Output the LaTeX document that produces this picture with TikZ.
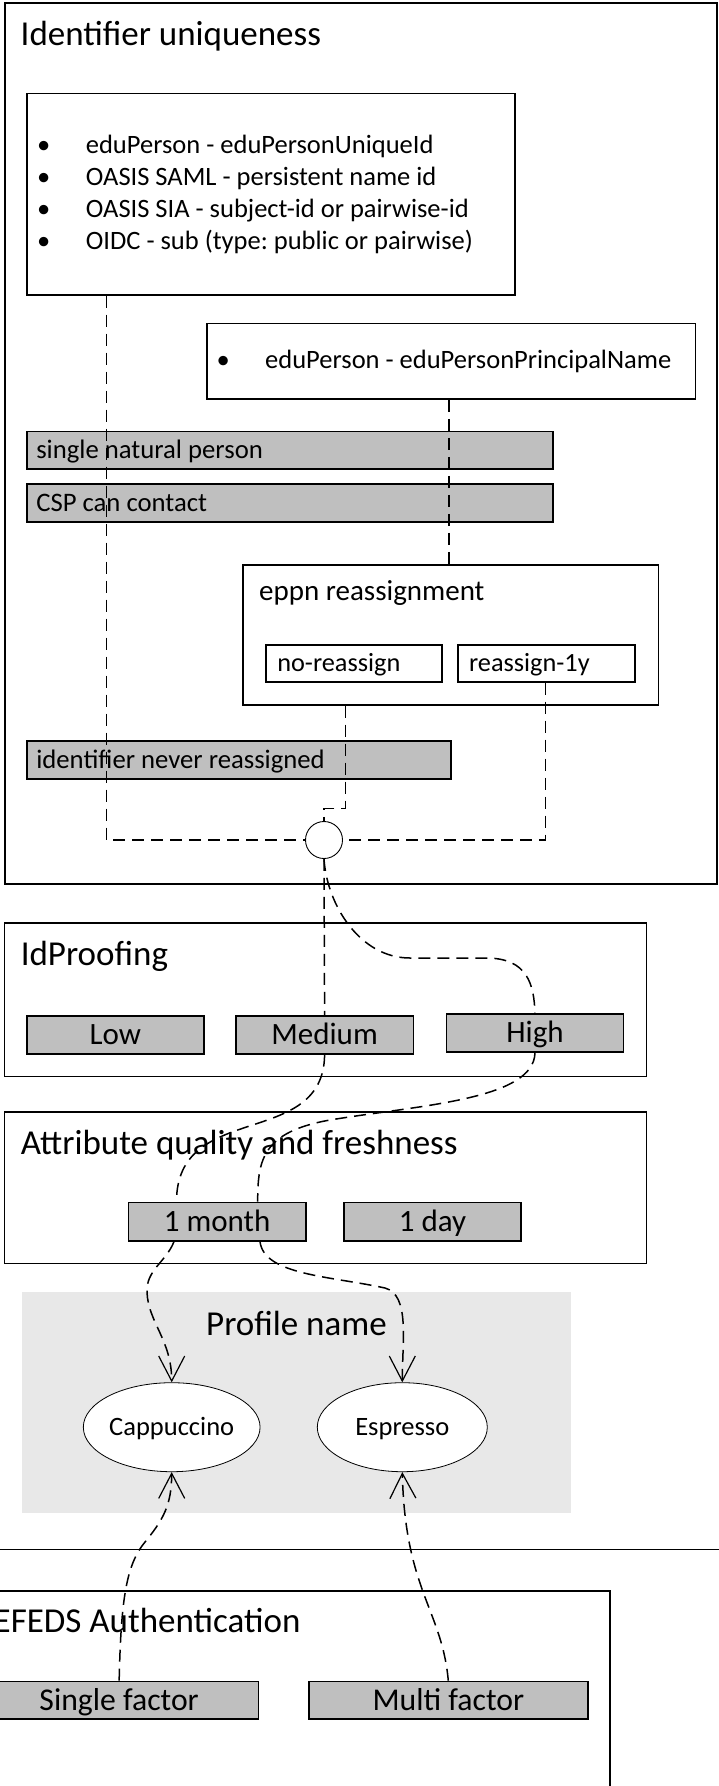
\documentclass[tikz,border=0pt]{standalone}
\usepackage{fontspec}
\setmainfont{Carlito}
\usetikzlibrary{shapes.geometric,arrows.meta}
\definecolor{boxgray}{HTML}{BFBFBF}
\definecolor{bggray}{HTML}{E8E8E8}
\newcommand{\fsz}[1]{\fontsize{#1}{#1}\selectfont\frenchspacing}
\begin{document}
\begin{tikzpicture}[x=1pt,y=-1pt,
  frame/.style={draw, line width=1.6pt, inner sep=0pt, anchor=north west, fill=white},
  gbox/.style={draw, fill=boxgray, line width=1.6pt, inner sep=0pt, anchor=north west},
  wbox/.style={draw, fill=white, line width=1.6pt, inner sep=0pt, anchor=north west},
  f267/.style={font=\fsz{26.7}, text height=21.9pt, text depth=5.1pt},
  f263/.style={font=\fsz{26.3}, text height=21.6pt, text depth=5pt},
  f265/.style={font=\fsz{26.5}, text height=21.7pt, text depth=5pt},
  f31/.style={font=\fsz{31}, text height=25.4pt, text depth=5.9pt},
  f317/.style={font=\fsz{31.7}, text height=26pt, text depth=6pt},
  lbl/.style={inner sep=0pt, anchor=base west},
  conn/.style={line width=1.5pt, dash pattern=on 12pt off 7pt},
  tip/.style={-{Straight Barb[length=25pt,width=26pt,line width=1.2pt]}},
]
\useasboundingbox (0,0) rectangle (718,1786);
\fill[white] (0,0) rectangle (718,1786);

% ---------- Identifier uniqueness ----------
\node[frame, minimum width=712pt, minimum height=881pt] (uniq) at (4,2) {};
\node[lbl, font=\fsz{35}] (uniqT) at (20.5,45) {Identifier uniqueness};

\node[frame, minimum width=488pt, minimum height=201.3pt] (ids) at (26,92.7) {};
\node[lbl, font=\fsz{26.5}] (id1) at (37,153.3) {\makebox[48.7pt][l]{•}eduPerson - eduPersonUniqueId};
\node[lbl, font=\fsz{26.5}] (id2) at (37,185.5) {\makebox[48.7pt][l]{•}OASIS SAML - persistent name id};
\node[lbl, font=\fsz{26.5}] (id3) at (37,217.5) {\makebox[48.7pt][l]{•}OASIS SIA - subject-id or pairwise-id};
\node[lbl, font=\fsz{26.5}] (id4) at (37,249.5) {\makebox[48.7pt][l]{•}OIDC - sub (type: public or pairwise)};

\node[frame, minimum width=488.6pt, minimum height=75.6pt] (eppnAttr) at (206,322.7) {};
\node[lbl, font=\fsz{26.5}] (eppnT) at (216.5,368.3) {\makebox[48.5pt][l]{•}eduPerson - eduPersonPrincipalName};

\node[gbox, f267, minimum width=526pt, minimum height=37.5pt, inner xsep=9.5pt] (snp) at (26,430.5) {\makebox[507pt][l]{single natural person}};
\node[gbox, f267, minimum width=526pt, minimum height=38pt, inner xsep=9.5pt] (csp) at (26,483) {\makebox[507pt][l]{CSP can contact}};

\node[frame, minimum width=415.5pt, minimum height=140pt] (eppn) at (242,564) {};
\node[lbl, font=\fsz{29}] (eppnTitle) at (259,600.5) {eppn reassignment};
\node[wbox, f263, minimum width=176pt, minimum height=37pt, inner xsep=11.5pt] (noR) at (265,644) {\makebox[153pt][l]{no-reassign}};
\node[wbox, f263, minimum width=176.7pt, minimum height=37pt, inner xsep=11pt] (reas) at (457.3,644) {\makebox[154.7pt][l]{reassign-1y}};

\node[gbox, f267, minimum width=424pt, minimum height=38pt, inner xsep=9.5pt] (inr) at (26,740) {\makebox[405pt][l]{identifier never reassigned}};

\node[draw, circle, minimum size=37pt, inner sep=0pt, line width=0.9pt, fill=white] (j) at (324,840) {};

% ---------- IdProofing ----------
\node[frame, minimum width=642pt, minimum height=153.4pt] (idp) at (3.7,922.3) {};
\node[lbl, font=\fsz{35}] (idpT) at (20.6,965) {IdProofing};
\node[gbox, f31, minimum width=177pt, minimum height=38pt] (low) at (26,1015) {Low};
\node[gbox, f31, minimum width=177.6pt, minimum height=38pt] (med) at (235,1015) {Medium};
\node[gbox, f31, minimum width=177pt, minimum height=37.7pt] (high) at (445.7,1013.3) {High};

% ---------- Attribute quality ----------
\node[frame, minimum width=642pt, minimum height=151.7pt] (attr) at (3.7,1111) {};
\node[lbl, font=\fsz{35}] (attrT) at (20.6,1154) {Attribute quality and freshness};
\node[gbox, f31, minimum width=177.5pt, minimum height=38.3pt] (mon) at (127.5,1201.7) {1 month};
\node[gbox, f31, minimum width=177.4pt, minimum height=38.3pt] (day) at (343,1201.7) {1 day};

% ---------- Profile name ----------
\node[fill=bggray, minimum width=549pt, minimum height=221pt, anchor=north west, inner sep=0pt] (prof) at (21.7,1292) {};
\node[inner sep=0pt, anchor=base, font=\fsz{35}] (profT) at (296.5,1335) {Profile name};
\node[draw, ellipse, fill=white, minimum width=170pt, minimum height=89pt, inner sep=0pt, line width=0.8pt, f265] (capp) at (171.7,1427.2) {Cappuccino};
\node[draw, ellipse, fill=white, minimum width=170pt, minimum height=89pt, inner sep=0pt, line width=0.8pt, f265] (esp) at (402.3,1427.2) {Espresso};

% ---------- lower frames ----------
\node[frame, minimum width=820pt, minimum height=400pt] (outer2) at (-50,1548.5) {};
\node[frame, minimum width=650pt, minimum height=300pt] (efeds) at (-41,1590) {};
\node[lbl, font=\fsz{35}] (efedsT) at (-6.5,1632) {EFEDS Authentication};
\node[gbox, f317, minimum width=278.7pt, minimum height=37.6pt] (sf) at (-21,1680.7) {Single factor};
\node[gbox, f317, minimum width=279pt, minimum height=37.6pt] (mf) at (308,1680.7) {Multi factor};

% ---------- connectors ----------
\coordinate (aB) at ([xshift=80.4pt]ids.south west);
\draw[conn] (aB) |- (j.west);
\coordinate (bB) at ([xshift=243pt]eppnAttr.south west);
\draw[conn] (bB) -- (bB |- eppn.north);
\coordinate (eB) at ([xshift=103.7pt]eppn.south west);
\draw[conn] (eB) -- ++(0,102.7) -| (j.north);
\coordinate (rB) at ([xshift=88pt]reas.south west);
\draw[conn] (rB) |- (j.east);

\draw[conn] (j.south) -- (med.north);
\draw[conn] (j.south) .. controls (327,905) and (360,958) .. (410,958) -- (486,958) .. controls (528,958) and (534,985) .. (high.north);

\coordinate (mT1) at ([xshift=49pt]mon.north west);
\coordinate (mT2) at ([xshift=130.2pt]mon.north west);
\coordinate (mB1) at ([xshift=46.5pt]mon.south west);
\coordinate (mB2) at ([xshift=132.5pt]mon.south west);

\draw[conn] (med.south) .. controls (323.7,1150) and (176.5,1100) .. (mT1);
\draw[conn] (high.south) .. controls (534,1100) and (420,1105) .. (330,1120) .. controls (262,1132) and (257.7,1160) .. (mT2);

\draw[conn, tip] (mB1) .. controls (166,1262) and (146,1270) .. (147,1292) .. controls (148,1322) and (171.7,1340) .. (capp.north);
\draw[conn, tip] (mB2) .. controls (264,1275) and (330,1276) .. (385,1288) .. controls (410,1295) and (402.3,1340) .. (esp.north);

\draw[conn, tip] (sf.north) .. controls (121,1600) and (126,1565) .. (145,1542) .. controls (163,1520) and (171.7,1505) .. (capp.south);
\draw[conn, tip] (mf.north) .. controls (442,1610) and (405,1590) .. (esp.south);
\end{tikzpicture}
\end{document}
